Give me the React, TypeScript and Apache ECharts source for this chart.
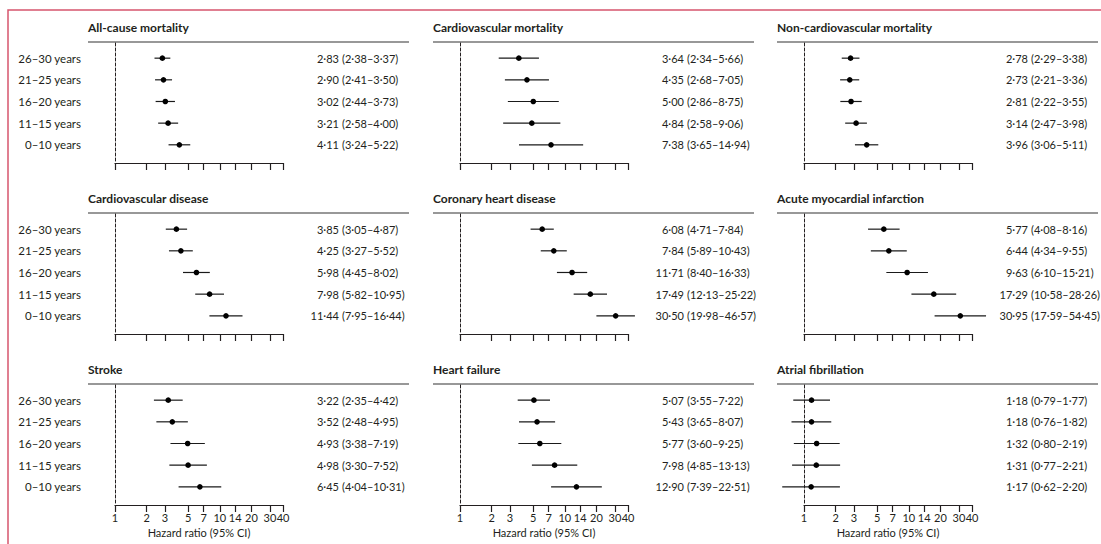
import { useEffect, useRef } from 'react';
import * as echarts from 'echarts';

const ageGroups = ['26–30 years', '21–25 years', '16–20 years', '11–15 years', '0–10 years'];
const xTicks = [1, 2, 3, 5, 7, 10, 14, 20, 30, 40];

const panelTitles = [
  'All-cause mortality',
  'Cardiovascular mortality',
  'Non-cardiovascular mortality',
  'Cardiovascular disease',
  'Coronary heart disease',
  'Acute myocardial infarction',
  'Stroke',
  'Heart failure',
  'Atrial fibrillation',
];

// hazard ratio, lower CI, upper CI – one row per age group
const allCauseHr = [2.83, 2.9, 3.02, 3.21, 4.11];
const allCauseLo = [2.38, 2.41, 2.44, 2.58, 3.24];
const allCauseHi = [3.37, 3.5, 3.73, 4.0, 5.22];

const cvMortHr = [3.64, 4.35, 5.0, 4.84, 7.38];
const cvMortLo = [2.34, 2.68, 2.86, 2.58, 3.65];
const cvMortHi = [5.66, 7.05, 8.75, 9.06, 14.94];

const nonCvMortHr = [2.78, 2.73, 2.81, 3.14, 3.96];
const nonCvMortLo = [2.29, 2.21, 2.22, 2.47, 3.06];
const nonCvMortHi = [3.38, 3.36, 3.55, 3.98, 5.11];

const cvdHr = [3.85, 4.25, 5.98, 7.98, 11.44];
const cvdLo = [3.05, 3.27, 4.45, 5.82, 7.95];
const cvdHi = [4.87, 5.52, 8.02, 10.95, 16.44];

const chdHr = [6.08, 7.84, 11.71, 17.49, 30.5];
const chdLo = [4.71, 5.89, 8.4, 12.13, 19.98];
const chdHi = [7.84, 10.43, 16.33, 25.22, 46.57];

const amiHr = [5.77, 6.44, 9.63, 17.29, 30.95];
const amiLo = [4.08, 4.34, 6.1, 10.58, 17.59];
const amiHi = [8.16, 9.55, 15.21, 28.26, 54.45];

const strokeHr = [3.22, 3.52, 4.93, 4.98, 6.45];
const strokeLo = [2.35, 2.48, 3.38, 3.3, 4.04];
const strokeHi = [4.42, 4.95, 7.19, 7.52, 10.31];

const hfHr = [5.07, 5.43, 5.77, 7.98, 12.9];
const hfLo = [3.55, 3.65, 3.6, 4.85, 7.39];
const hfHi = [7.22, 8.07, 9.25, 13.13, 22.51];

const afHr = [1.18, 1.18, 1.32, 1.31, 1.17];
const afLo = [0.79, 0.76, 0.8, 0.77, 0.62];
const afHi = [1.77, 1.82, 2.19, 2.21, 2.2];

const panelHr = [allCauseHr, cvMortHr, nonCvMortHr, cvdHr, chdHr, amiHr, strokeHr, hfHr, afHr];
const panelLo = [allCauseLo, cvMortLo, nonCvMortLo, cvdLo, chdLo, amiLo, strokeLo, hfLo, afLo];
const panelHi = [allCauseHi, cvMortHi, nonCvMortHi, cvdHi, chdHi, amiHi, strokeHi, hfHi, afHi];

const FONT = 'Lato, "Noto Sans", sans-serif';
const INK = '#231f20';

// layout
const colTitleX = [88, 433, 777];
const rowTitleY = [27, 198, 369];
const axisOffsetX = 27; // axis start relative to title
const axisWidth = 168;
const ruleOffsetY = 15; // rule under title
const plotHeight = 120;
const ruleRight = 321; // rule length from title x

const fmt = (v: number) => v.toFixed(2).replace('.', '·');

export default function App() {
  const ref = useRef<HTMLDivElement>(null);

  useEffect(() => {
    if (!ref.current) return;
    const chart = echarts.init(ref.current, null, { renderer: 'svg' });

    const grids: any[] = [];
    const xAxes: any[] = [];
    const yAxes: any[] = [];
    const series: any[] = [];
    const graphics: any[] = [
      {
        type: 'rect',
        shape: { x: 8, y: 10, width: 1300, height: 700 },
        style: { fill: 'none', stroke: '#d6566e', lineWidth: 1.5 },
        silent: true,
      },
    ];

    panelTitles.forEach((title, p) => {
      const col = p % 3;
      const row = Math.floor(p / 3);
      const tx = colTitleX[col];
      const ty = rowTitleY[row];
      const ruleY = ty + ruleOffsetY;
      const isBottom = row === 2;

      graphics.push(
        {
          type: 'text',
          x: tx,
          y: ty,
          style: {
            text: title,
            font: `bold 12px ${FONT}`,
            fill: INK,
            verticalAlign: 'middle',
          },
        },
        {
          type: 'line',
          shape: { x1: tx, y1: ruleY, x2: tx + ruleRight, y2: ruleY },
          style: { stroke: '#333', lineWidth: 1.2 },
        }
      );

      grids.push({
        left: tx + axisOffsetX,
        top: ruleY + 1,
        width: axisWidth,
        height: plotHeight,
      });

      xAxes.push({
        type: 'log',
        gridIndex: p,
        min: 1,
        max: 40,
        axisLine: { onZero: false, lineStyle: { color: INK, width: 1.2 } },
        axisTick: { customValues: xTicks, length: 7, lineStyle: { color: INK, width: 1.2 } },
        axisLabel: {
          show: isBottom,
          customValues: xTicks,
          showMinLabel: true,
          showMaxLabel: true,
          hideOverlap: false,
          margin: 7,
          color: INK,
          fontFamily: FONT,
          fontSize: 11,
        },
        splitLine: { show: false },
        name: isBottom ? 'Hazard ratio (95% CI)' : '',
        nameLocation: 'middle',
        nameGap: 22,
        nameTextStyle: { color: INK, fontFamily: FONT, fontSize: 11 },
      });

      yAxes.push({
        type: 'value',
        gridIndex: p,
        inverse: true,
        min: -0.7,
        max: 4.84,
        axisLine: { show: true, onZero: false, lineStyle: { color: INK, type: [3, 2], width: 1 } },
        axisTick: { show: false },
        splitLine: { show: false },
        axisLabel: {
          show: col === 0,
          customValues: [0, 1, 2, 3, 4],
          formatter: (v: number) => ageGroups[v] ?? '',
          margin: 34,
          color: INK,
          fontFamily: FONT,
          fontSize: 11.5,
        },
      });

      const data = ageGroups.map((_, i) => [panelLo[p][i], panelHi[p][i], panelHr[p][i], i]);

      series.push({
        type: 'custom',
        xAxisIndex: p,
        yAxisIndex: p,
        clip: false,
        data,
        encode: { x: [0, 1, 2], y: 3 },
        renderItem: (params: any, api: any) => {
          const lo = api.coord([api.value(0), api.value(3)]);
          const hi = api.coord([api.value(1), api.value(3)]);
          const mid = api.coord([api.value(2), api.value(3)]);
          const left = params.coordSys.x;
          const hr = api.value(2) as number;
          return {
            type: 'group',
            children: [
              {
                type: 'line',
                shape: { x1: lo[0], y1: lo[1], x2: hi[0], y2: hi[1] },
                style: { stroke: '#1a1a1a', lineWidth: 1.2 },
              },
              {
                type: 'circle',
                shape: { cx: mid[0], cy: mid[1], r: 2.8 },
                style: { fill: '#000' },
              },
              {
                type: 'text',
                x: left + 224,
                y: mid[1],
                style: {
                  text: fmt(hr),
                  font: `11px ${FONT}`,
                  fill: INK,
                  align: 'right',
                  verticalAlign: 'middle',
                },
              },
              {
                type: 'text',
                x: left + 227,
                y: mid[1],
                style: {
                  text: `(${fmt(api.value(0))}–${fmt(api.value(1))})`,
                  font: `11px ${FONT}`,
                  fill: INK,
                  align: 'left',
                  verticalAlign: 'middle',
                },
              },
            ],
          };
        },
      });
    });

    chart.setOption({
      animation: false,
      backgroundColor: '#fff',
      grid: grids,
      xAxis: xAxes,
      yAxis: yAxes,
      series,
      graphic: graphics,
    });

    const resize = () => chart.resize();
    window.addEventListener('resize', resize);
    return () => {
      window.removeEventListener('resize', resize);
      chart.dispose();
    };
  }, []);

  return <div ref={ref} style={{ position: 'fixed', left: 0, top: 0, width: 1101, height: 544 }} />;
}
